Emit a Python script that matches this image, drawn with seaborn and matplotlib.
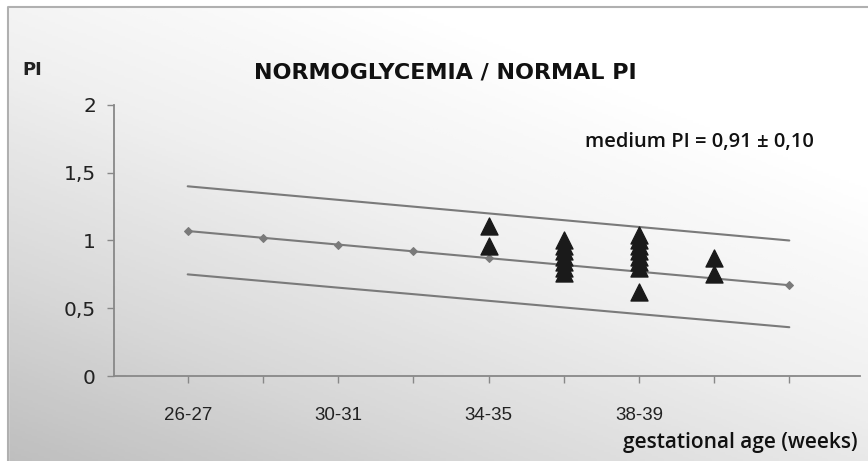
import numpy as np
import pandas as pd
import matplotlib
matplotlib.use("Agg")
import matplotlib.pyplot as plt
import seaborn as sns

# gestational age groups (weeks), one per tick
age_groups = ["26-27", "28-29", "30-31", "32-33", "34-35", "36-37", "38-39", "40-41", "42"]
shown_labels = ["26-27", "", "30-31", "", "34-35", "", "38-39", "", ""]

# reference curves
pi_mean = [1.07, 1.02, 0.97, 0.92, 0.87, 0.82, 0.77, 0.72, 0.67]
pi_upper = [1.40, 1.35, 1.30, 1.25, 1.20, 1.15, 1.10, 1.05, 1.00]
pi_lower = [0.750, 0.701, 0.652, 0.604, 0.555, 0.506, 0.457, 0.409, 0.360]

# measured PI of the patients
patient_group = ["34-35"] * 2 + ["36-37"] * 7 + ["38-39"] * 8 + ["40-41"] * 2
patient_pi = [1.11, 0.96,
              1.00, 0.96, 0.92, 0.88, 0.84, 0.80, 0.76,
              1.04, 1.00, 0.96, 0.92, 0.88, 0.84, 0.80, 0.62,
              0.87, 0.75]

curves = pd.DataFrame({"pos": range(len(age_groups)), "mean": pi_mean,
                       "upper": pi_upper, "lower": pi_lower})
patients = pd.DataFrame({"pos": [age_groups.index(g) for g in patient_group],
                         "pi": patient_pi})

sns.set_style("white")
plt.rcParams["font.family"] = ["DejaVu Sans"]
narrow = ["Liberation Sans Narrow", "Liberation Sans", "DejaVu Sans"]
open_sans = ["Open Sans", "DejaVu Sans"]

fig = plt.figure(figsize=(8.68, 4.61), dpi=100)

# grey gradient background, darker towards bottom-left
bg = fig.add_axes([0, 0, 1, 1], zorder=0)
gx, gy = np.meshgrid(np.linspace(0, 1, 300), np.linspace(0, 1, 200))
shade = np.clip(0.55 * gx + 0.75 * (1 - gy), 0, 1)
bg.imshow(shade, cmap="Greys_r", vmin=-1.7, vmax=1.0, aspect="auto",
          extent=[0, 1, 0, 1], origin="upper")
bg.add_patch(plt.Rectangle((0, 0), 8 / 868, 1, color="white", transform=bg.transAxes))
bg.add_patch(plt.Rectangle((0, 1 - 7 / 461), 1, 7 / 461, color="white", transform=bg.transAxes))
bg.plot([8 / 868, 8 / 868, 1], [0, 1 - 7 / 461, 1 - 7 / 461], color="#b0b0b0", lw=1.5)
bg.set_xlim(0, 1)
bg.set_ylim(0, 1)
bg.axis("off")

ax = fig.add_axes([114 / 868, 1 - 376 / 461, (860 - 114) / 868, (376 - 105) / 461], zorder=1)
ax.patch.set_alpha(0)

line_col = "#7a7a7a"
sns.lineplot(data=curves, x="pos", y="upper", ax=ax, color=line_col, lw=1.5)
sns.lineplot(data=curves, x="pos", y="lower", ax=ax, color=line_col, lw=1.5)
sns.lineplot(data=curves, x="pos", y="mean", ax=ax, color=line_col, lw=1.5,
             marker="D", markersize=4, markeredgecolor=line_col)
sns.scatterplot(data=patients, x="pos", y="pi", ax=ax, marker="^", s=150,
                color="#1a1a1a", edgecolor="#1a1a1a", zorder=5)

ax.set_xlim(-0.98, 8.94)
ax.set_ylim(0, 2)
ax.set_xticks(range(len(age_groups)))
ax.set_xticklabels(shown_labels, fontsize=13.5, color="#222222", family=narrow)
ax.set_yticks([0, 0.5, 1, 1.5, 2])
ax.set_yticklabels(["0", "0,5", "1", "1,5", "2"], fontsize=14.5, color="#222222")
ax.tick_params(axis="x", bottom=True, length=5, width=1, color="#888888", pad=17)
ax.tick_params(axis="y", left=True, length=5, width=1, color="#888888", pad=8)
ax.set_xlabel("")
ax.set_ylabel("")
for side in ["top", "right"]:
    ax.spines[side].set_visible(False)
for side in ["left", "bottom"]:
    ax.spines[side].set_color("#888888")
    ax.spines[side].set_linewidth(1.3)

fig.text(445 / 868, 1 - 73 / 461, "NORMOGLYCEMIA / NORMAL PI", ha="center", va="center",
         fontsize=16, fontweight="bold", color="#111111")
fig.text(22 / 868, 1 - 70 / 461, "PI", ha="left", va="center", fontsize=13,
         fontweight="bold", color="#222222")
fig.text(585 / 868, 1 - 142 / 461, "medium PI = 0,91 \u00b1 0,10", ha="left", va="center",
         fontsize=14.5, family=open_sans, fontweight="semibold", color="#111111")
fig.text(858 / 868, 1 - 442 / 461, "gestational age (weeks)", ha="right", va="center",
         fontsize=15, family=open_sans, fontweight="semibold", color="#111111")

fig.savefig("out.png", dpi=100)
